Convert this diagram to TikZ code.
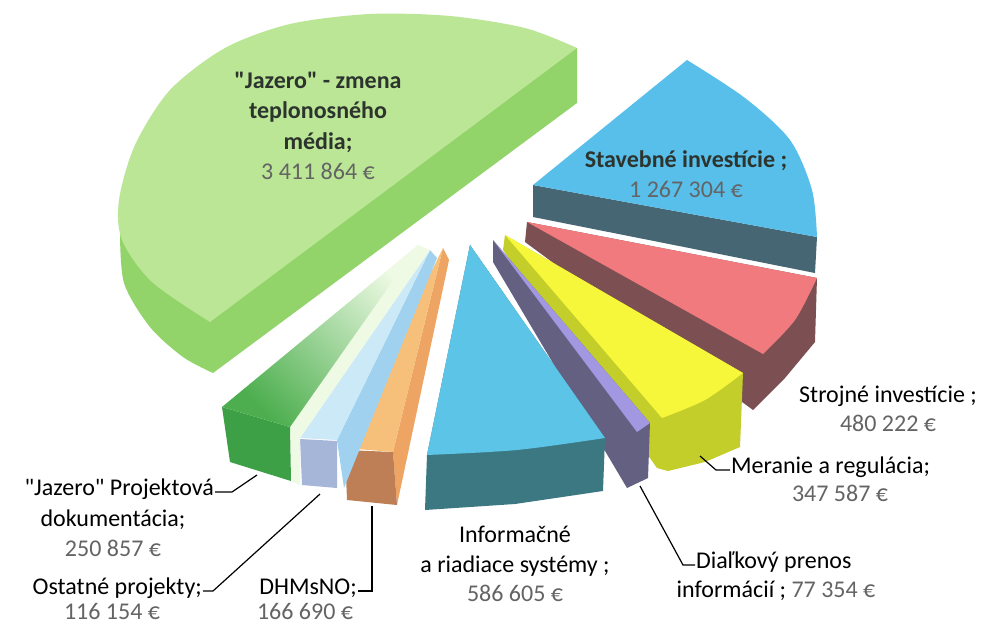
\documentclass[tikz,border=0pt]{standalone}
\usepackage{fontspec}
\setmainfont{Carlito}[Ligatures=TeXOff]
\usetikzlibrary{positioning}
\definecolor{jzTop}{RGB}{186,230,150}
\definecolor{jzSide}{RGB}{146,212,106}
\definecolor{stTop}{RGB}{88,190,234}
\definecolor{stSide}{RGB}{70,102,116}
\definecolor{sjTop}{RGB}{240,122,126}
\definecolor{sjSide}{RGB}{124,80,82}
\definecolor{mrTop}{RGB}{246,246,58}
\definecolor{mrSide}{RGB}{196,206,42}
\definecolor{dpTop}{RGB}{162,152,226}
\definecolor{dpSide}{RGB}{100,96,130}
\definecolor{irTop}{RGB}{92,196,230}
\definecolor{irSide}{RGB}{60,120,130}
\definecolor{dhTop}{RGB}{246,192,122}
\definecolor{dhRight}{RGB}{238,164,98}
\definecolor{dhFront}{RGB}{190,126,86}
\definecolor{opTop}{RGB}{204,233,247}
\definecolor{opRight}{RGB}{160,210,240}
\definecolor{opFront}{RGB}{166,182,216}
\definecolor{jpTop}{RGB}{76,174,78}
\definecolor{jpPale}{RGB}{238,250,228}
\definecolor{jpFront}{RGB}{62,160,70}
\definecolor{txtDark}{RGB}{45,52,45}
\definecolor{valGray}{RGB}{100,100,100}
\begin{document}
\begin{tikzpicture}[x=1pt,y=-1pt,
  lbl/.style={font=\fontsize{24}{29.5}\selectfont,align=center,inner sep=1pt},
  inlbl/.style={lbl,font=\fontsize{24}{30.5}\selectfont\bfseries,text=txtDark},
  val/.style={lbl,text=valGray},
  leader/.style={line width=1.2pt,black}]
\useasboundingbox (0,0) rectangle (986,625);
\fill[white] (0,0) rectangle (986,625);
% "Jazero" - zmena teplonosneho media
\fill[jzSide] plot[smooth] coordinates {(120,230) (124,283) (150,327) (183,357) (213,373)}
  -- (577,103) -- (577,48) -- (300,100) -- cycle;
\fill[jzTop] plot[smooth] coordinates {(577,48) (525,28) (450,16) (370,14) (290,24) (225,48)
  (170,90) (135,145) (119,200) (122,240) (152,282) (210,322)} -- cycle;
% Stavebne investicie
\fill[stSide] (533,185) -- (533,217) -- (815,273) -- (817,237) -- cycle;
\fill[stTop] (533,185) -- plot[smooth] coordinates {(687,60) (745,98) (790,140) (812,190) (817,237)} -- cycle;
% Strojne investicie
\fill[sjSide] (527,222) -- (525,242) -- (753,410) -- (785,378) -- (815,342) -- (817,278) -- cycle;
\fill[sjTop] (527,222) -- plot[smooth] coordinates {(817,278) (795,320) (763,354)} -- cycle;
% Meranie a regulacia
\fill[mrSide] (505,235) -- (503,250) -- (657,468) -- (668,471) -- (705,462) -- (740,447) -- (743,373) -- cycle;
\fill[mrTop] (505,235) -- plot[smooth] coordinates {(743,373) (705,400) (662,418)} -- cycle;
% Dialkovy prenos
\fill[dpSide] (493,240) -- (493,262) -- (627,488) -- (648,478) -- (650,423) -- cycle;
\fill[dpTop] (493,240) -- (650,423) -- (637,432) -- cycle;
% Informacne a riadiace systemy
\fill[irSide] (470,245) -- (605,438) -- (603,491) -- (515,504) -- (425,510) -- (427,455) -- cycle;
\fill[irTop] (470,245) -- plot[smooth] coordinates {(605,438) (517,450) (427,455)} -- cycle;
% DHMsNO
\fill[dhRight] (443,248) -- (449,260) -- (397,505) -- (393,452) -- cycle;
\fill[dhFront] (345,450) -- (393,452) -- (397,505) -- (347,500) -- cycle;
\fill[dhTop] (443,248) -- (393,452) -- (345,448) -- cycle;
% Ostatne projekty
\fill[opRight] (430,250) -- (437,258) -- (344,488) -- (337,440) -- cycle;
\fill[opFront] (300,439) -- (337,441) -- (337,488) -- (302,485) -- cycle;
\fill[opTop] (430,250) -- (337,440) -- (300,438) -- cycle;
% "Jazero" Projektova dokumentacia
\fill[jpPale] (418,245) -- (430,250) -- (300,438) -- (300,485) -- (292,482) -- (290,427) -- cycle;
\fill[jpFront] (222,407) -- (290,427) -- (291,481) -- (230,462) -- cycle;
\shade[bottom color=jpTop,middle color=jpTop!55!jpPale,top color=jpPale,shading angle=-45]
  (418,245) -- (290,427) -- (222,407) -- cycle;

% labels
\node[inlbl] (jzLbl) at (318,126) {"Jazero" - zmena\\teplonosného\\média;\\{\mdseries\color{valGray}3 411 864 €}};
\node[inlbl] (stLbl) at (686,174) {Stavebné investície ;\\{\mdseries\color{valGray}1 267 304 €}};
\node[lbl] (sjLbl) at (888,409) {Strojné investície ;\\{\color{valGray}480 222 €}};
\node[lbl,anchor=base west] (mrLbl) at (730,473) {Meranie a regulácia;};
\node[val,anchor=base] (mrVal) at (840,501) {347 587 €};
\node[lbl,anchor=base west] (dpLbl) at (695,568) {Diaľkový prenos};
\node[lbl,anchor=base] (dpVal) at (776,597) {informácií ; {\color{valGray}77 354 €}};
\node[lbl] (irLbl) at (515,564) {Informačné\\a riadiace systémy ;\\{\color{valGray}586 605 €}};
\node[lbl,anchor=base east] (dhLbl) at (358,594) {DHMsNO;};
\node[val,anchor=base] (dhVal) at (305,619) {166 690 €};
\node[lbl,anchor=base east] (opLbl) at (203,594) {Ostatné projekty;};
\node[val,anchor=base] (opVal) at (112,619) {116 154 €};
\node[lbl,anchor=base east] (jpLbl) at (215,495) {"Jazero" Projektová};
\node[lbl] (jpLbl2) at (113,533) {dokumentácia;\\{\color{valGray}250 857 €}};

% leaders
\coordinate (jpTip) at (257,475); \coordinate (jpBend) at (232,492);
\coordinate (opTip) at (320,494); \coordinate (opBend) at (213,591);
\coordinate (dhTip) at (372,506); \coordinate (dhBend) at (372,591);
\coordinate (mrTip) at (700,456); \coordinate (mrBend) at (716,470);
\coordinate (dpTip) at (640,486); \coordinate (dpBend) at (683,565);
\draw[leader] (jpTip) -- (jpBend) -- ([yshift=3pt]jpLbl.base east);
\draw[leader] (opTip) -- (opBend) -- ([yshift=3pt]opLbl.base east);
\draw[leader] (dhTip) -- (dhBend) -- ([yshift=3pt]dhLbl.base east);
\draw[leader] (mrTip) -- (mrBend) -- ([yshift=3pt]mrLbl.base west);
\draw[leader] (dpTip) -- (dpBend) -- ([yshift=3pt]dpLbl.base west);
\end{tikzpicture}
\end{document}
